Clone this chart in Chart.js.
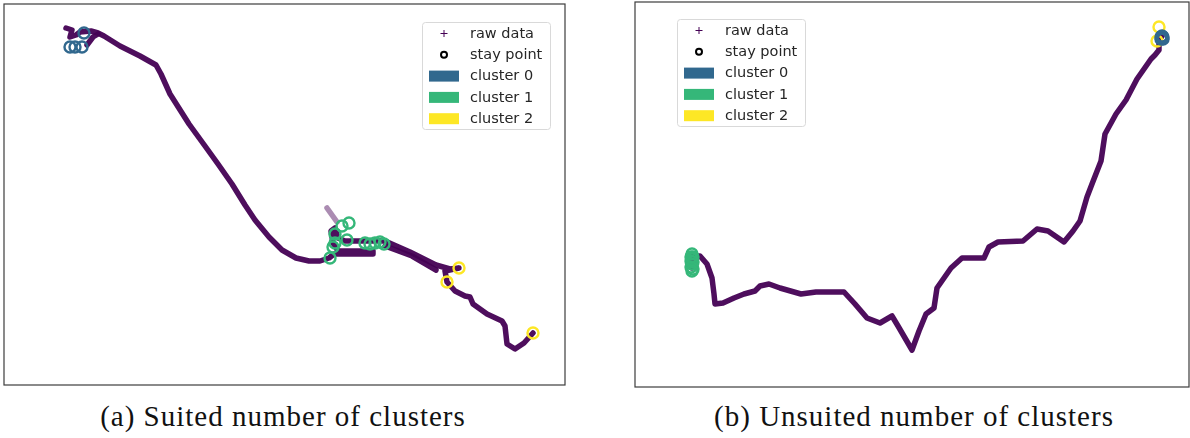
<!DOCTYPE html>
<html>
<head>
<meta charset="utf-8">
<title>Stay point clusters</title>
<script src="https://cdn.jsdelivr.net/npm/chart.js@4.4.1/dist/chart.umd.min.js"></script>
<style>
  body { margin: 0; background: #fff; width: 1190px; height: 438px; position: relative; overflow: hidden; }
  .panel { position: absolute; }
  .caption {
    position: absolute; top: 400px; width: 600px; text-align: center;
    font-family: "Liberation Serif", "DejaVu Serif", serif; font-size: 29px;
    letter-spacing: 1px; color: #111; white-space: nowrap;
  }
</style>
</head>
<body>
<div class="panel" style="left:3px; top:3px; width:563px; height:383px;"><canvas id="suitedChart"></canvas></div>
<div class="panel" style="left:634px; top:1px; width:556px; height:387px;"><canvas id="unsuitedChart"></canvas></div>
<div class="caption" style="left:-17px;">(a) Suited number of clusters</div>
<div class="caption" style="left:614px;">(b) Unsuited number of clusters</div>

<script>
// ================= DATA =================
// local east/north offsets (metres / 10) of the GPS trajectory
const legendLabels = ["raw data", "stay point", "cluster 0", "cluster 1", "cluster 2"];
const clusterColors = ["#31688e", "#35b779", "#fde725"];
const rawColor = "#440154";

// (a) suited: 3 clusters
const suitedTrack = [
  [62,357],[68,355],[66,348],[72,350],[76,353],[87,354],[94,352],[100,349],[116,339],[136,329],
  [152,320],[157,311],[166,291],[185,261],[201,239],[214,221],[228,201],[241,180],[251,165],
  [265,148],[278,135],[292,127],[305,124],[316,124],[325,127],[330,131],[369,131],[369,134],
  [334,134],[329,142],[327,154],[331,157],[334,147],[341,144],[381,144],[406,133],[432,120],
  [446,116],[455,117],[441,114],[443,103],[451,94],[461,89],[466,88],[469,81],[483,71],
  [498,64],[501,59],[503,41],[511,36],[520,42],[529,52]
];
const suitedBranch = [[83,340],[89,348],[94,351]];
const suitedReturn = [[381,139],[408,129],[432,115]];
const suitedFaint = [[323,177],[333,163]];
const suitedCluster0 = [[80,352],[66,338],[71,338],[78,338]];
const suitedCluster1 = [[345,162],[338,159],[331,151],[343,145],[331,142],[329,138],[326,127],
  [361,142],[366,141],[371,142],[376,143],[380,141]];
const suitedCluster2 = [[455,117],[443,103],[529,52]];

// (b) unsuited: same number of clusters on another trip
const unsuitedTrack = [
  [57,119],[58,131],[65,131],[72,123],[77,109],[79,93],[80,83],[88,84],[99,89],[109,93],
  [120,96],[125,101],[134,103],[145,99],[166,93],[181,95],[209,95],[220,83],[232,69],[245,64],
  [257,71],[263,61],[277,37],[284,56],[291,73],[299,79],[302,99],[316,119],[327,129],[349,129],
  [354,140],[363,145],[388,146],[402,158],[413,156],[429,145],[438,156],[445,166],[452,190],
  [457,203],[466,226],[470,253],[481,273],[491,287],[502,308],[516,328],[520,332],[524,337],
  [524,347],[527,351]
];
const unsuitedCluster0 = [[527,349],[526,350],[528,348],[527,351],[526,348],[528,350]];
const unsuitedCluster1 = [[57,133],[57,128],[57,123],[58,118],[56,126],[58,130],[56,120],
  [58,125],[56,130],[57,116]];
const unsuitedCluster2 = [[524,360],[522,346]];

// ================= HELPERS =================
const toPoints = arr => arr.map(p => ({ x: p[0], y: p[1] }));

function trackSet(arr, alpha) {
  return {
    data: toPoints(arr), showLine: true, pointRadius: 0,
    borderColor: `rgba(68,1,84,${alpha})`, borderWidth: 5.5,
    borderJoinStyle: "round", borderCapStyle: "round", order: 5
  };
}

function clusterSet(arr, color) {
  return {
    data: toPoints(arr), showLine: false, pointStyle: "circle",
    pointRadius: 5.5, pointBorderWidth: 2.4,
    pointBorderColor: color, pointBackgroundColor: "rgba(0,0,0,0)", order: 1
  };
}

// frame round the plot area + legend box inside it
const boxLegend = {
  id: "boxLegend",
  afterDraw(chart, args, opts) {
    const ctx = chart.ctx, area = chart.chartArea;
    ctx.save();
    ctx.strokeStyle = "#3c3c3c";
    ctx.lineWidth = 1.2;
    ctx.strokeRect(area.left, area.top, area.right - area.left, area.bottom - area.top);

    const w = 128, h = 107, rowH = 21.3;
    const bx = opts.side === "right" ? area.right - opts.dx - w : area.left + opts.dx;
    const by = area.top + opts.dy;
    ctx.fillStyle = "rgba(255,255,255,0.85)";
    ctx.strokeStyle = "#d9d9d9";
    ctx.lineWidth = 1;
    ctx.beginPath();
    ctx.roundRect(bx + 0.5, by + 0.5, w, h, 3);
    ctx.fill();
    ctx.stroke();

    ctx.font = "14.5px 'DejaVu Sans'";
    ctx.textBaseline = "middle";
    legendLabels.forEach((label, i) => {
      const cy = by + 11.5 + i * rowH;
      const mx = bx + 22;
      if (i === 0) {
        ctx.strokeStyle = rawColor;
        ctx.lineWidth = 1;
        ctx.beginPath();
        ctx.moveTo(mx - 3.5, cy); ctx.lineTo(mx + 3.5, cy);
        ctx.moveTo(mx, cy - 3.5); ctx.lineTo(mx, cy + 3.5);
        ctx.stroke();
      } else if (i === 1) {
        ctx.strokeStyle = "#000";
        ctx.lineWidth = 2;
        ctx.beginPath();
        ctx.arc(mx, cy, 3, 0, Math.PI * 2);
        ctx.stroke();
      } else {
        ctx.fillStyle = clusterColors[i - 2];
        ctx.fillRect(bx + 7, cy - 5.5, 30, 11);
      }
      ctx.fillStyle = "#262626";
      ctx.fillText(label, bx + 48, cy + 0.5);
    });
    ctx.restore();
  }
};

function makeChart(id, datasets, xMax, yMax, legendOpts) {
  return new Chart(document.getElementById(id), {
    type: "scatter",
    data: { datasets },
    options: {
      responsive: true,
      maintainAspectRatio: false,
      animation: false,
      layout: { padding: 1, autoPadding: false },
      scales: {
        x: { type: "linear", display: false, min: 0, max: xMax },
        y: { type: "linear", display: false, min: 0, max: yMax }
      },
      plugins: {
        legend: { display: false },
        tooltip: { enabled: false },
        boxLegend: legendOpts
      }
    },
    plugins: [boxLegend]
  });
}

// ================= CHARTS =================
makeChart("suitedChart", [
  clusterSet(suitedCluster0, clusterColors[0]),
  clusterSet(suitedCluster1, clusterColors[1]),
  clusterSet(suitedCluster2, clusterColors[2]),
  trackSet(suitedTrack, 0.95),
  trackSet(suitedBranch, 0.95),
  trackSet(suitedReturn, 0.95),
  trackSet(suitedFaint, 0.45)
], 561, 381, { side: "right", dx: 15, dy: 18 });

makeChart("unsuitedChart", [
  clusterSet(unsuitedCluster0, clusterColors[0]),
  clusterSet(unsuitedCluster1, clusterColors[1]),
  clusterSet(unsuitedCluster2, clusterColors[2]),
  trackSet(unsuitedTrack, 0.95)
], 554, 385, { side: "left", dx: 42, dy: 17 });
</script>
</body>
</html>
